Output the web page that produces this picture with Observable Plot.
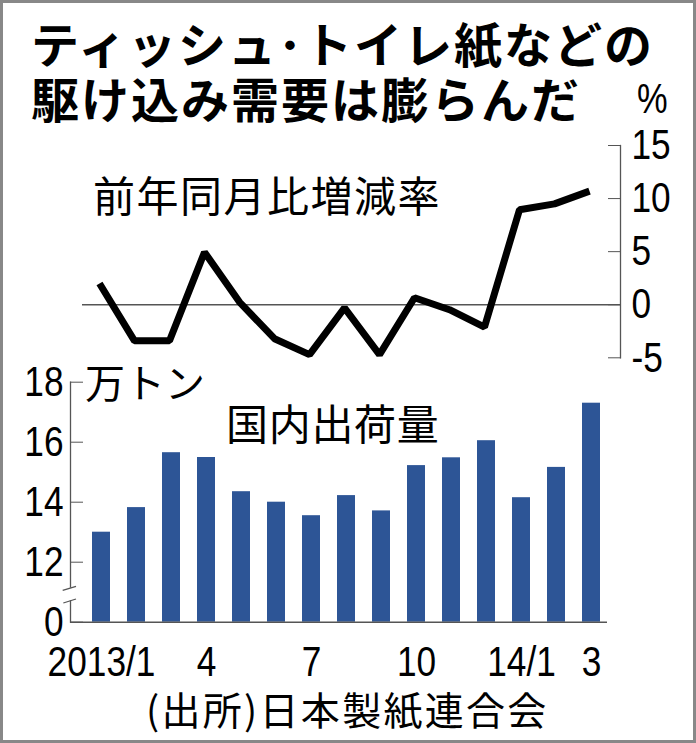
<!DOCTYPE html>
<html><head><meta charset="utf-8">
<script src="https://cdn.jsdelivr.net/npm/d3@7"></script>
<script src="https://cdn.jsdelivr.net/npm/@observablehq/plot@0.6"></script>
<style>
body{margin:0;background:#fff;}
#wrap{position:relative;width:696px;height:743px;overflow:hidden;background:#fff;}
#wrap svg{position:absolute;left:0;top:0;}
.t{position:absolute;white-space:nowrap;color:#000;font-family:"Noto Sans CJK JP",sans-serif;}
.num{font-family:"Liberation Sans",sans-serif;transform:scaleX(0.82);transform-origin:left center;}
#border{position:absolute;left:0;top:0;width:696px;height:743px;box-sizing:border-box;border:3px solid #888;}
</style></head>
<body><div id="wrap"></div>
<script>
// ---- data ----
const months = ["2013/1","2013/2","2013/3","2013/4","2013/5","2013/6","2013/7","2013/8","2013/9","2013/10","2013/11","2013/12","2014/1","2014/2","2014/3"];
const tickMonths = ["2013/1","2013/4","2013/7","2013/10","2014/1","2014/3"];
const tickLabels = ["2013/1","4","7","10","14/1","3"];
// 国内出荷量 (万トン)
const shipments = [13.0,13.82,15.65,15.49,14.35,14.0,13.55,14.22,13.71,15.22,15.48,16.05,14.15,15.16,17.3];
// 前年同月比増減率 (%)
const yoy = [2.0,-3.4,-3.4,4.95,0.25,-3.2,-4.7,-0.3,-4.7,0.66,-0.47,-2.1,8.95,9.5,10.7];
const barTicks = [10,12,14,16,18];   // 10 is drawn as "0" (broken axis)
const lineTicks = [-5,0,5,10,15];

const numFont = '"Liberation Sans",sans-serif';
const labelMap = new Map(tickMonths.map((m,i)=>[m,tickLabels[i]]));
const barData = months.map((m,i)=>({month:m, value:shipments[i]}));
const lineData = months.map((m,i)=>({month:m, value:yoy[i]}));
const wrap = document.getElementById("wrap");

// condense numeric tick labels horizontally (narrow newspaper digits)
function condense(svg, k){
  d3.select(svg).selectAll("g[aria-label$='tick label'] text").each(function(){
    const xa = this.getAttribute("x");
    const x = (xa && !/em/.test(xa)) ? parseFloat(xa) || 0 : 0;
    const t = this.getAttribute("transform")||"";
    this.setAttribute("transform", `${t} translate(${x},0) scale(${k},1) translate(${-x},0)`);
  });
}

const bars = Plot.plot({
  width:696, height:743,
  marginTop:381.7, marginBottom:121.3, marginLeft:70, marginRight:89,
  style:{background:"transparent", overflow:"visible"},
  x:{type:"band", domain:months, paddingInner:0.487, paddingOuter:0.4, align:0.75},
  y:{domain:[10,18], clamp:true},
  marks:[
    Plot.barY(barData, {x:"month", y:"value", fill:"#2d5596"}),
    Plot.frame({anchor:"left", stroke:"#555", strokeWidth:1.3}),
    Plot.ruleY([10], {stroke:"#555", strokeWidth:1.5}),
    Plot.axisY({ticks:barTicks, tickFormat:d=>d===10?"0":String(d), tickSize:-13, tickPadding:20, label:null,
      fontSize:43, fontFamily:numFont, stroke:"#555", fill:"#000"}),
    Plot.axisX({ticks:tickMonths, tickFormat:d=>labelMap.get(d), tickSize:0, tickPadding:23, label:null,
      fontSize:43, fontFamily:numFont, fill:"#000"})
  ]
});
wrap.appendChild(bars);
condense(bars, 0.82);
// axis break symbol
{
  const ys = bars.scale("y");
  const yb = ys.apply(10.9);
  const s = d3.select(bars);
  s.append("rect").attr("x",66).attr("y",yb-7).attr("width",8).attr("height",12.5).attr("fill","#fff");
  s.append("path").attr("d",`M62.7,${yb-4.4}L76,${yb-8.4}`).attr("stroke","#555").attr("stroke-width",1.3).attr("fill","none");
  s.append("path").attr("d",`M63.3,${yb+8.3}L76,${yb+4.3}`).attr("stroke","#555").attr("stroke-width",1.3).attr("fill","none");
}

const line = Plot.plot({
  width:696, height:743,
  marginTop:145, marginBottom:385.7, marginLeft:82, marginRight:76,
  style:{background:"transparent", overflow:"visible"},
  x:{type:"point", domain:months, padding:0.631, align:0.364, axis:null},
  y:{domain:[-5,15]},
  marks:[
    Plot.ruleY([0], {stroke:"#555", strokeWidth:1.5}),
    Plot.frame({anchor:"right", stroke:"#555", strokeWidth:1.3}),
    Plot.axisY({anchor:"right", ticks:lineTicks, tickFormat:d=>String(d), tickSize:-13, tickPadding:24, label:null,
      fontSize:43, fontFamily:numFont, stroke:"#555", fill:"#000"}),
    Plot.line(lineData, {x:"month", y:"value", stroke:"#000", strokeWidth:7, strokeLinejoin:"miter", strokeLinecap:"butt"})
  ]
});
wrap.appendChild(line);
condense(line, 0.82);

function addText(txt, cls, css){
  const d = document.createElement("div");
  d.className = cls; d.textContent = txt;
  Object.assign(d.style, css);
  wrap.appendChild(d);
}
addText("ティッシュ･トイレ紙などの", "t", {left:"31px", top:"16px", fontSize:"48px", lineHeight:"52px", fontWeight:"700", letterSpacing:"2px"});
addText("駆け込み需要は膨らんだ", "t", {left:"31px", top:"71px", fontSize:"48px", lineHeight:"52px", fontWeight:"700", letterSpacing:"2px"});
addText("%", "t num", {left:"637px", top:"77.5px", fontSize:"42px", lineHeight:"42px"});
addText("前年同月比増減率", "t", {left:"93px", top:"173px", fontSize:"42px", lineHeight:"42px", letterSpacing:"1.5px"});
addText("万トン", "t", {left:"85px", top:"361px", fontSize:"40px", lineHeight:"40px"});
addText("国内出荷量", "t", {left:"226px", top:"400.5px", fontSize:"42px", lineHeight:"42px", letterSpacing:"0.7px"});
addText("(出所)日本製紙連合会", "t", {left:"146px", top:"689px", fontSize:"39px", lineHeight:"39px", letterSpacing:"2.3px"});
const b = document.createElement("div"); b.id = "border"; wrap.appendChild(b);
</script>
</body></html>
